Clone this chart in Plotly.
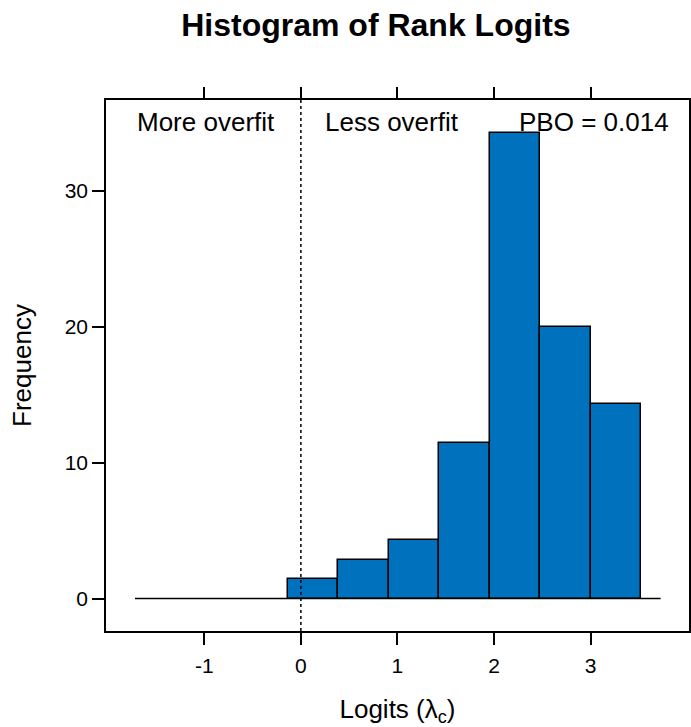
import plotly.graph_objects as go

# Histogram of rank logits (percent of trials per bin)
bin_edges = [-0.137, 0.385, 0.908, 1.431, 1.954, 2.477, 3.000, 3.523]
bin_freq = [1.43, 2.86, 4.29, 11.43, 34.29, 20.00, 14.29]
baseline_x = [-1.718, 3.725]

x_ticks = [-1, 0, 1, 2, 3]
y_ticks = [0, 10, 20, 30]
x_range = [-2.018, 4.019]
y_range = [-2.39, 36.69]

pbo_value = 0.014

centers = [(a + b) / 2 for a, b in zip(bin_edges[:-1], bin_edges[1:])]
widths = [b - a for a, b in zip(bin_edges[:-1], bin_edges[1:])]

FONT = "Liberation Sans, Arial, sans-serif"

fig = go.Figure()

fig.add_trace(go.Scatter(
    x=baseline_x, y=[0, 0], mode="lines",
    line=dict(color="black", width=1.5), showlegend=False, hoverinfo="skip",
))

fig.add_trace(go.Bar(
    x=centers, y=bin_freq, width=widths,
    marker=dict(color="#0072BD", line=dict(color="black", width=1.5)),
    showlegend=False,
))

# dummy trace on the top axis so its ticks are drawn
fig.add_trace(go.Scatter(x=[None], y=[None], xaxis="x2", showlegend=False))

fig.add_shape(type="line", x0=0, x1=0, y0=0, y1=1, xref="x", yref="paper",
              line=dict(color="black", width=1.5, dash="dot"))

ann_font = dict(family=FONT, size=26, color="black")
ann_y = 35.1
fig.add_annotation(x=-0.987, y=ann_y, text="More overfit", showarrow=False,
                   xanchor="center", yanchor="middle", font=ann_font)
fig.add_annotation(x=0.94, y=ann_y, text="Less overfit", showarrow=False,
                   xanchor="center", yanchor="middle", font=ann_font)
fig.add_annotation(x=3.83, y=ann_y, text=f"PBO = {pbo_value}", showarrow=False,
                   xanchor="right", yanchor="middle", font=ann_font)

tick_font = dict(family=FONT, size=21, color="black")
axis_common = dict(showline=True, linecolor="black", linewidth=1.5,
                   mirror=True, ticks="outside", ticklen=12, tickwidth=1.5,
                   tickcolor="black", showgrid=False, zeroline=False,
                   tickfont=tick_font)

fig.update_layout(
    width=691, height=727,
    margin=dict(l=106, r=0, t=100, b=96),
    paper_bgcolor="white", plot_bgcolor="white",
    bargap=0,
    title=dict(text="<b>Histogram of Rank Logits</b>", x=0.544, xanchor="center",
               y=0.966, yanchor="middle",
               font=dict(family=FONT, size=32, color="black")),
    xaxis=dict(range=x_range, tickvals=x_ticks, ticktext=[str(v) for v in x_ticks],
               ticklabelstandoff=3,
               title=dict(text="Logits (λ<sub>c</sub>)", standoff=30,
                          font=dict(family=FONT, size=26, color="black")),
               **axis_common),
    xaxis2=dict(range=x_range, tickvals=x_ticks, overlaying="x", side="top",
                showticklabels=False, ticks="outside", ticklen=12, tickwidth=1.5,
                tickcolor="black", showgrid=False, zeroline=False, showline=False),
    yaxis=dict(range=y_range, tickvals=y_ticks, ticktext=[str(v) for v in y_ticks],
               title=dict(text="Frequency", standoff=26,
                          font=dict(family=FONT, size=26, color="black")),
               **axis_common),
)

fig.write_html("out.html")
